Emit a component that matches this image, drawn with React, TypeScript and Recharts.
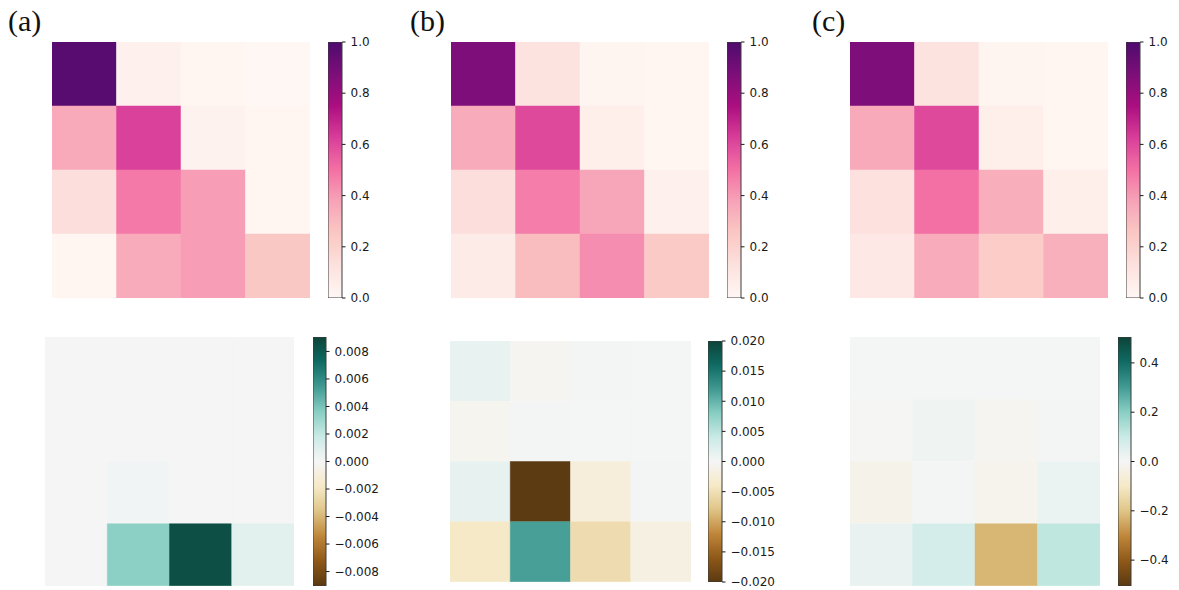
import React from 'react';
import { BarChart, Bar, Cell, XAxis, YAxis } from 'recharts';

// Colormap anchor colours (ColorBrewer RdPu and BrBG)
const RDPU = ['#fff7f3', '#fde0dd', '#fcc5c0', '#fa9fb5', '#f768a1', '#dd3497', '#ae017e', '#7a0177', '#49006a'];
const BRBG = ['#543005', '#8c510a', '#bf812d', '#dfc27d', '#f6e8c3', '#f5f5f5', '#c7eae5', '#80cdc1', '#35978f', '#01665e', '#003c30'];

// Grid positions (query rows / key columns)
const ROWS = ['q0', 'q1', 'q2', 'q3'];
const COLS = ['k0', 'k1', 'k2', 'k3'];

// Attention weights, rows top to bottom
const attnA = [
  [0.97, 0.04, 0.01, 0.0],
  [0.36, 0.62, 0.03, 0.01],
  [0.14, 0.48, 0.39, 0.01],
  [0.01, 0.35, 0.39, 0.25],
];
const attnB = [
  [0.87, 0.12, 0.02, 0.01],
  [0.35, 0.6, 0.05, 0.01],
  [0.14, 0.47, 0.37, 0.04],
  [0.07, 0.29, 0.43, 0.24],
];
const attnC = [
  [0.87, 0.12, 0.02, 0.01],
  [0.36, 0.6, 0.05, 0.01],
  [0.13, 0.5, 0.34, 0.05],
  [0.09, 0.35, 0.23, 0.33],
];

// Differences
const diffA = [
  [0.00003, 0.00003, 0.00003, 0.00003],
  [0.00003, 0.00003, 0.00003, 0.00003],
  [0.00003, 0.0002, 0.00003, 0.00003],
  [0.00003, 0.0035, 0.0085, 0.0008],
];
const diffB = [
  [0.0012, -0.0005, 0.0002, 0.0001],
  [-0.0006, 0.0003, 0.0001, 0.0001],
  [0.0013, -0.0198, -0.0024, 0.0002],
  [-0.004, 0.0116, -0.0054, -0.0017],
];
const diffC = [
  [0.004, 0.003, 0.003, 0.004],
  [-0.002, 0.015, -0.01, 0.008],
  [-0.028, 0.006, -0.022, 0.025],
  [0.028, 0.075, -0.225, 0.117],
];

// Colour bar ticks
const ticksAttn = [0, 0.2, 0.4, 0.6, 0.8, 1.0];
const ticksDiffA = [-0.008, -0.006, -0.004, -0.002, 0, 0.002, 0.004, 0.006, 0.008];
const ticksDiffB = [-0.02, -0.015, -0.01, -0.005, 0, 0.005, 0.01, 0.015, 0.02];
const ticksDiffC = [-0.4, -0.2, 0, 0.2, 0.4];

const panelLabels = ['(a)', '(b)', '(c)'];

// Slight lightening and desaturation of the printed palette
const WASH = 0.04;
const DESAT = 0.05;

function hexToRgb(h: string): number[] {
  const n = parseInt(h.slice(1), 16);
  return [(n >> 16) & 255, (n >> 8) & 255, n & 255];
}

function makeCmap(stops: string[]) {
  const rgb = stops.map(hexToRgb);
  return (t: number): string => {
    const c = Math.max(0, Math.min(1, t));
    const pos = c * (rgb.length - 1);
    const i = Math.min(rgb.length - 2, Math.floor(pos));
    const f = pos - i;
    const mixed = [0, 1, 2].map((k) => {
      const v = rgb[i][k] + (rgb[i + 1][k] - rgb[i][k]) * f;
      return v * (1 - WASH) + 255 * WASH;
    });
    const lum = 0.3 * mixed[0] + 0.59 * mixed[1] + 0.11 * mixed[2];
    const col = mixed.map((v) => Math.round(v * (1 - DESAT) + lum * DESAT));
    return `rgb(${col[0]},${col[1]},${col[2]})`;
  };
}

const rdpu = makeCmap(RDPU);
const brbg = makeCmap(BRBG);

const fmt = (v: number, d: number) => (v < 0 ? '\u2212' + Math.abs(v).toFixed(d) : v.toFixed(d));

type HeatProps = {
  matrix: number[][];
  cmap: (t: number) => string;
  vmin: number;
  vmax: number;
  left: number;
  top: number;
  width: number;
  height: number;
};

function Heatmap({ matrix, cmap, vmin, vmax, left, top, width, height }: HeatProps) {
  const data = ROWS.map((r) => {
    const d: Record<string, number | string> = { row: r };
    COLS.forEach((_, ci) => (d[`w${ci}`] = 1));
    return d;
  });
  const color = (v: number) => cmap((v - vmin) / (vmax - vmin));
  return (
    <div style={{ position: 'absolute', left, top }}>
      <BarChart
        layout="vertical"
        width={width}
        height={height}
        data={data}
        margin={{ top: 0, right: 0, bottom: 0, left: 0 }}
        barCategoryGap={0}
        barGap={0}
      >
        <XAxis type="number" domain={[0, COLS.length]} hide />
        <YAxis type="category" dataKey="row" hide />
        {COLS.map((c, ci) => (
          <Bar key={c} dataKey={`w${ci}`} stackId="grid" isAnimationActive={false}>
            {matrix.map((row, ri) => {
              const fill = color(row[ci]);
              return <Cell key={ri} fill={fill} stroke={fill} strokeWidth={0.5} />;
            })}
          </Bar>
        ))}
      </BarChart>
    </div>
  );
}

type BarProps = {
  id: string;
  cmap: (t: number) => string;
  vmin: number;
  vmax: number;
  ticks: number[];
  digits: number;
  left: number;
  top: number;
  barWidth: number;
  height: number;
};

function Colorbar({ id, cmap, vmin, vmax, ticks, digits, left, top, barWidth, height }: BarProps) {
  const pad = 10;
  const axisW = 64;
  const stops = Array.from({ length: 41 }, (_, i) => i / 40);
  return (
    <div style={{ position: 'absolute', left, top: top - pad }}>
      <BarChart
        width={barWidth + axisW}
        height={height + 2 * pad}
        data={[{ k: 'scale', span: [vmin, vmax] }]}
        margin={{ top: pad, right: 0, bottom: pad, left: 0 }}
        barCategoryGap={0}
      >
        <defs>
          <linearGradient id={id} x1="0" y1="1" x2="0" y2="0">
            {stops.map((t) => (
              <stop key={t} offset={t} stopColor={cmap(t)} />
            ))}
          </linearGradient>
        </defs>
        <XAxis dataKey="k" type="category" hide />
        <YAxis
          orientation="right"
          type="number"
          domain={[vmin, vmax]}
          allowDataOverflow
          ticks={ticks}
          interval={0}
          width={axisW}
          axisLine={false}
          tickSize={3.5}
          tickMargin={5}
          tickLine={{ stroke: '#1a1a1a' }}
          tick={{ fill: '#1a1a1a', fontSize: 12, fontFamily: 'DejaVu Sans' }}
          tickFormatter={(v: number) => fmt(v, digits)}
        />
        <Bar dataKey="span" fill={`url(#${id})`} stroke="#3c3c3c" strokeWidth={1} isAnimationActive={false} />
      </BarChart>
    </div>
  );
}

export default function App() {
  return (
    <div style={{ position: 'absolute', left: 0, top: 0, width: 1179, height: 590, background: '#fff', overflow: 'hidden' }}>
      <svg width={1179} height={60} style={{ position: 'absolute', left: 0, top: 0 }}>
        {panelLabels.map((t, i) => (
          <text key={t} x={[8, 410, 812][i]} y={31} fontFamily="Liberation Serif" fontSize={30} fill="#111">
            {t}
          </text>
        ))}
      </svg>

      <Heatmap matrix={attnA} cmap={rdpu} vmin={0} vmax={1} left={52} top={42} width={258} height={256} />
      <Heatmap matrix={attnB} cmap={rdpu} vmin={0} vmax={1} left={451} top={42} width={258} height={256} />
      <Heatmap matrix={attnC} cmap={rdpu} vmin={0} vmax={1} left={850} top={42} width={258} height={256} />

      <Colorbar id="cbA" cmap={rdpu} vmin={0} vmax={1} ticks={ticksAttn} digits={1} left={328} top={42} barWidth={14} height={256} />
      <Colorbar id="cbB" cmap={rdpu} vmin={0} vmax={1} ticks={ticksAttn} digits={1} left={727} top={42} barWidth={14} height={256} />
      <Colorbar id="cbC" cmap={rdpu} vmin={0} vmax={1} ticks={ticksAttn} digits={1} left={1126} top={42} barWidth={14} height={256} />

      <Heatmap matrix={diffA} cmap={brbg} vmin={-0.00905} vmax={0.00905} left={45} top={337} width={249} height={249} />
      <Heatmap matrix={diffB} cmap={brbg} vmin={-0.02} vmax={0.02} left={450} top={341} width={241} height={241} />
      <Heatmap matrix={diffC} cmap={brbg} vmin={-0.505} vmax={0.505} left={850} top={337} width={250} height={249} />

      <Colorbar id="cbDA" cmap={brbg} vmin={-0.00905} vmax={0.00905} ticks={ticksDiffA} digits={3} left={313} top={337} barWidth={13} height={249} />
      <Colorbar id="cbDB" cmap={brbg} vmin={-0.02} vmax={0.02} ticks={ticksDiffB} digits={3} left={708} top={341} barWidth={14} height={241} />
      <Colorbar id="cbDC" cmap={brbg} vmin={-0.505} vmax={0.505} ticks={ticksDiffC} digits={1} left={1118} top={337} barWidth={13} height={249} />
    </div>
  );
}
